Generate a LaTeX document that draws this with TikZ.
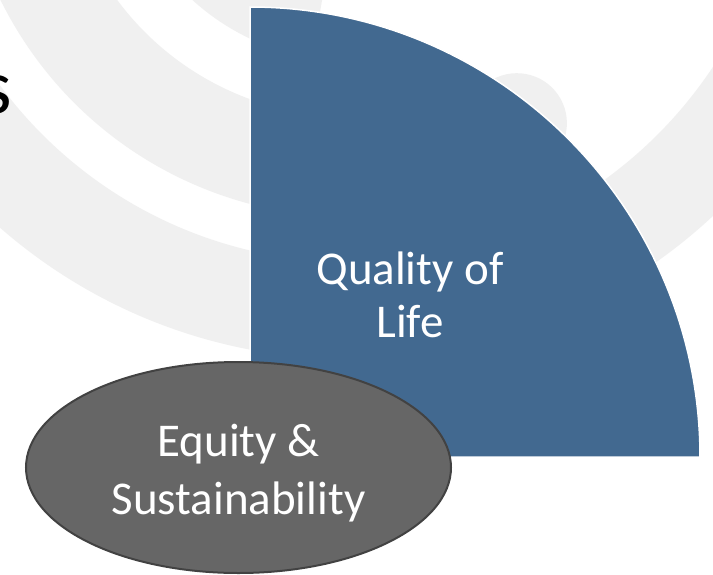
\documentclass[tikz,border=0pt]{standalone}
\usepackage{fontspec}
\setmainfont{Carlito}
\usetikzlibrary{shapes.geometric}
\definecolor{qblue}{HTML}{426990}
\definecolor{bandgray}{HTML}{F0F0F0}
\definecolor{egray}{HTML}{666666}
\definecolor{eborder}{HTML}{424242}
\tikzset{
  bandarc/.style={draw=bandgray, line width=#1},
  bigtext/.style={text=white, align=center, inner sep=0pt, font=\fontsize{47}{#1}\selectfont},
}
\begin{document}
\begin{tikzpicture}[x=1pt,y=-1pt]
\useasboundingbox (0,0) rectangle (713,574);
\clip (0,0) rectangle (713,574);
\fill[white] (0,0) rectangle (713,574);
% background watermark arcs, common centre above the picture
\coordinate (c) at (350,-173);
\draw[bandarc=97] (c) ++(0:483.5) arc[start angle=0, end angle=180, radius=483.5];
\draw[bandarc=100, line cap=round] (c) ++(60.6:340) arc[start angle=60.6, end angle=185, radius=340];
\draw[bandarc=100] (c) ++(99.2:184) arc[start angle=99.2, end angle=185, radius=184];
% partial title letter at the left edge
\node[anchor=base east, inner sep=0pt, font=\fontsize{78}{80}\selectfont] (title) at (12,113) {s};
% quarter circle
\coordinate (qc) at (250,457);
\fill[qblue, draw=white, line width=1.5pt] (qc) -- ++(0,-450) arc[start angle=-90, end angle=0, radius=450] -- cycle;
\node[bigtext=53] (qol) at (410,295) {Quality of\\Life};
% ellipse
\node[ellipse, minimum width=425pt, minimum height=211pt, inner sep=0pt, fill=egray, draw=eborder, line width=2pt] (eq) at (238.5,467.5) {};
\node[bigtext=57.5] (eqtext) at (238.5,473) {Equity \&\\Sustainability};
\end{tikzpicture}
\end{document}
